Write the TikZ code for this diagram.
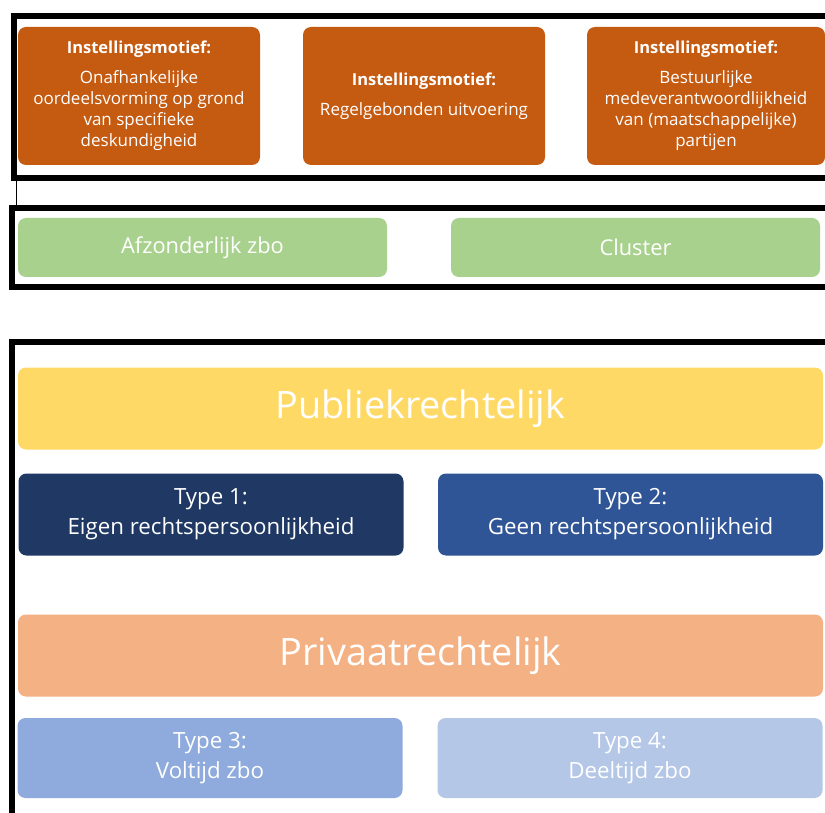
\documentclass[tikz,border=0pt]{standalone}
\usepackage{fontspec}
\setmainfont{Open Sans}
\usepackage{xcolor}
\usepackage{tikz}
\usetikzlibrary{positioning,calc}
\definecolor{motief}{RGB}{197,90,17}
\definecolor{zbogreen}{RGB}{169,209,142}
\definecolor{publiek}{RGB}{255,217,102}
\definecolor{privaat}{RGB}{244,177,131}
\definecolor{typeone}{RGB}{31,56,100}
\definecolor{typetwo}{RGB}{47,85,151}
\definecolor{typethree}{RGB}{143,170,220}
\definecolor{typefour}{RGB}{180,199,231}
\newcommand{\motiefkop}{{\fontsize{16.5}{21}\selectfont\bfseries Instellingsmotief:}}

\begin{document}
\begin{tikzpicture}[
  x=1pt, y=-1pt,
  blok/.style={rounded corners=8pt, inner sep=0pt, align=center, text=white},
  motiefbox/.style={blok, fill=motief, minimum height=138pt,
                    font=\fontsize{17}{21}\selectfont},
  zbobox/.style={blok, fill=zbogreen, minimum width=369pt, minimum height=59pt,
                 font=\fontsize{21.8}{24}\selectfont},
  rechtbox/.style={blok, minimum width=805pt, minimum height=82pt,
                   font=\fontsize{37.8}{40}\selectfont},
  typebox/.style={blok, minimum width=385pt, minimum height=82pt,
                  font=\fontsize{22.3}{30}\selectfont},
  frame/.style={draw=black, line width=6pt},
  thin/.style={draw=black, line width=1pt},
]
\clip (0,0) rectangle (825,813);
\fill[white] (0,0) rectangle (825,813);

% Frames
\draw[frame] (840,16) -- (13.5,16) -- (13.5,178.5) -- (840,178.5);
\draw[frame] (840,208) -- (11.5,208) -- (11.5,287.5) -- (840,287.5);
\draw[frame] (840,341.5) -- (11.5,341.5) -- (11.5,830);
\coordinate (f1) at (16.5,181.5);
\coordinate (f2) at (16.5,205);
\draw[thin] (f1) -- (f2);

% Row 1 - instellingsmotieven
\node[motiefbox, minimum width=242pt] (m1) at (139,96)
  {\motiefkop\\[9pt]Onafhankelijke\\oordeelsvorming op grond\\van specifieke\\deskundigheid};
\node[motiefbox, minimum width=242pt] (m2) at (424,96)
  {\motiefkop\\[9pt]Regelgebonden uitvoering};
\node[motiefbox, minimum width=238pt] (m3) at (706,96)
  {\motiefkop\\[9pt]Bestuurlijke\\medeverantwoordlijkheid\\van (maatschappelijke)\\partijen};

% Row 2 - zbo vorm
\node[zbobox] (afz) at (202.5,247.5) {Afzonderlijk zbo};
\node[zbobox] (clu) at (635.5,247.5) {Cluster};

% Publiekrechtelijk
\node[rechtbox, fill=publiek] (pub) at (420.5,408.5) {Publiekrechtelijk};
\node[typebox, fill=typeone] (t1) at (211,514.5) {Type 1:\\Eigen rechtspersoonlijkheid};
\node[typebox, fill=typetwo] (t2) at (630.5,514.5) {Type 2:\\Geen rechtspersoonlijkheid};

% Privaatrechtelijk
\node[rechtbox, fill=privaat] (priv) at (420.5,655.5) {Privaatrechtelijk};
\node[typebox, fill=typethree, minimum height=80pt] (t3) at (210,758) {Type 3:\\Voltijd zbo};
\node[typebox, fill=typefour, minimum height=80pt] (t4) at (630,758) {Type 4:\\Deeltijd zbo};
\end{tikzpicture}
\end{document}
